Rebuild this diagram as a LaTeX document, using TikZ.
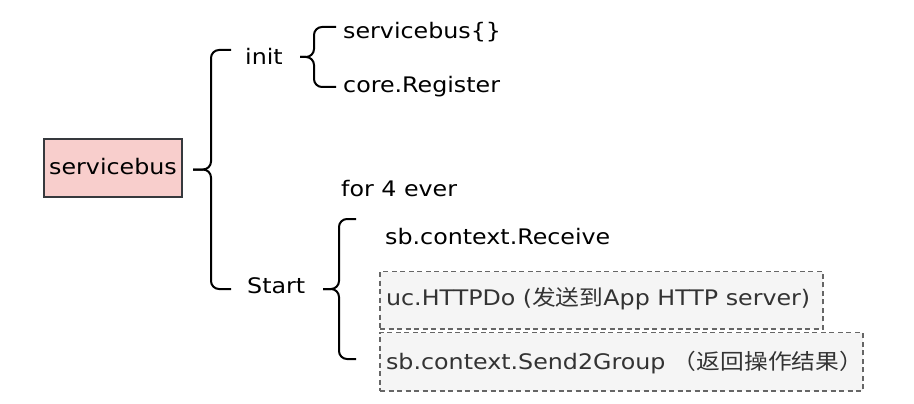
\documentclass[tikz,border=0pt]{standalone}
\usepackage{fontspec}
\setmainfont{DejaVu Sans}[FakeStretch=1.11]
\newfontfamily\cjk{Noto Sans CJK SC}[FakeStretch=1.11]
\definecolor{pinkfill}{HTML}{F8CECC}
\definecolor{boxline}{HTML}{36393D}
\definecolor{greyfill}{HTML}{F5F5F5}
\definecolor{greyline}{HTML}{666666}
\definecolor{greytext}{HTML}{333333}
\tikzset{
  txt/.style={font=\fontsize{21.4}{25}\selectfont},
  lbl/.style={txt, anchor=base west, inner sep=0pt},
  curly/.style={draw=black, line width=2pt, rounded corners=8pt},
  dbox/.style={txt, anchor=base west, draw=greyline, fill=greyfill,
    dash pattern=on 5pt off 3.5pt, line width=1.8pt,
    inner xsep=6pt, inner ysep=0pt, text=greytext},
}
\begin{document}
\begin{tikzpicture}[x=1pt,y=-1pt]
\useasboundingbox (0,0) rectangle (914,404);

% root box
\node[txt, draw=boxline, fill=pinkfill, line width=2pt,
      minimum width=138.6pt, minimum height=58pt, inner sep=0pt,
      text height=15pt, text depth=1.8pt] (root) at (113,167.7) {servicebus};

% labels
\node[lbl] (init) at (245,65) {init};
\node[lbl] (start) at (247,293.3) {Start};
\node[lbl] (sbobj) at (343,38.5) {servicebus\{\}};
\node[lbl] (reg) at (343,92.7) {core.Register};
\node[lbl] (forever) at (341,196.7) {for 4 ever};
\node[lbl] (recv) at (385,244) {sb.context.Receive};

% dashed boxes
\node[dbox, text height=34.2pt, text depth=23.5pt] (http) at (379.2,305.7)
  {\makebox[430.6pt][l]{uc.HTTPDo ({\cjk 发送到}App HTTP server)}};
\node[dbox, text height=36.5pt, text depth=21.9pt] (send) at (379.2,369)
  {\makebox[470.6pt][l]{sb.context.Send2Group {\cjk （返回操作结果）}}};

% brace 1: root -> init / Start
\coordinate (b1tip) at (193,169.5);
\coordinate (b1v) at (211,0);
\coordinate (b1top) at (231,50);
\coordinate (b1bot) at (231,289);
\draw[curly] (b1top) -- (b1top -| b1v) -- (b1tip -| b1v) -- (b1tip);
\draw[curly] (b1bot) -- (b1bot -| b1v) -- (b1tip -| b1v) -- (b1tip);

% brace 2: init -> servicebus{} / core.Register
\coordinate (b2tip) at (300,57);
\coordinate (b2v) at (314,0);
\coordinate (b2top) at (336,27);
\coordinate (b2bot) at (336,87);
\draw[curly] (b2top) -- (b2top -| b2v) -- (b2tip -| b2v) -- (b2tip);
\draw[curly] (b2bot) -- (b2bot -| b2v) -- (b2tip -| b2v) -- (b2tip);

% brace 3: Start -> loop body
\coordinate (b3tip) at (323,289);
\coordinate (b3v) at (339,0);
\coordinate (b3top) at (356,219);
\coordinate (b3bot) at (356,359);
\draw[curly] (b3top) -- (b3top -| b3v) -- (b3tip -| b3v) -- (b3tip);
\draw[curly] (b3bot) -- (b3bot -| b3v) -- (b3tip -| b3v) -- (b3tip);
\end{tikzpicture}
\end{document}
